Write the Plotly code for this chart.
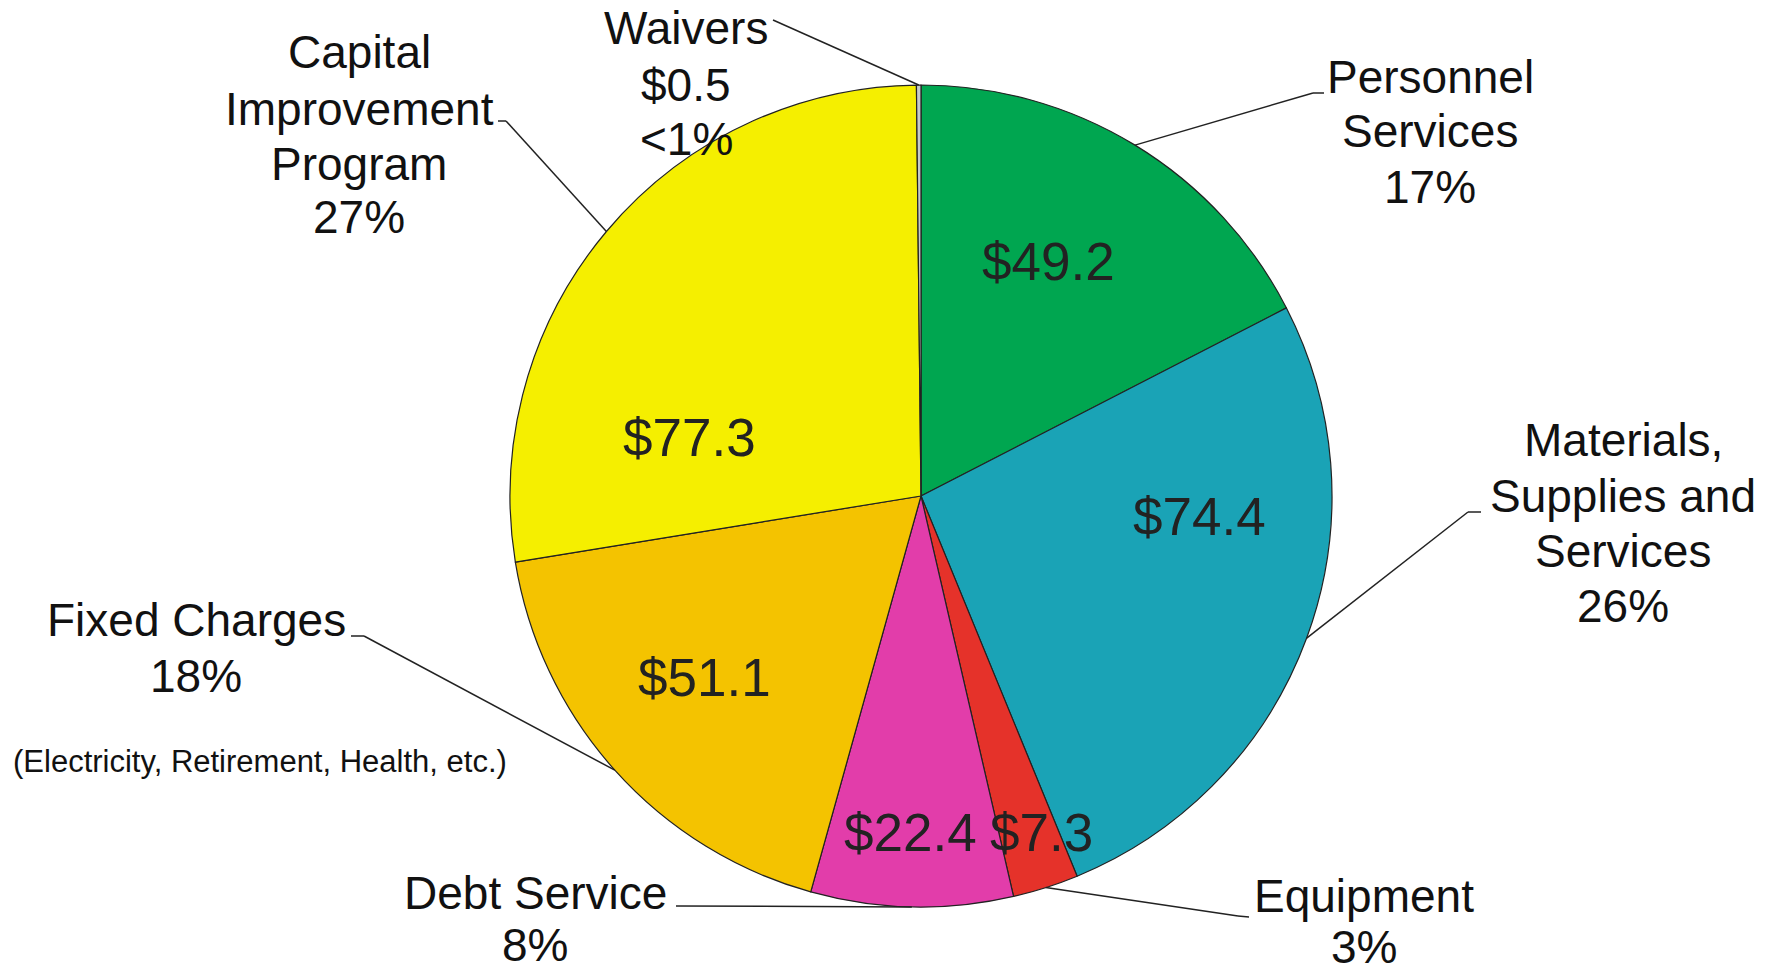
import math
import plotly.graph_objects as go

# data (millions of dollars)
categories = ["Personnel Services", "Materials, Supplies and Services", "Equipment",
              "Debt Service", "Fixed Charges", "Capital Improvement Program", "Waivers"]
amounts = [49.2, 74.4, 7.3, 22.4, 51.1, 77.3, 0.5]
pct_labels = ["17%", "26%", "3%", "8%", "18%", "27%", "<1%"]
colors = ["#00A650", "#1AA3B6", "#E5322A", "#E23DAA", "#F4C300", "#F5EF00", "#C4CACA"]

W, H = 1775, 976
CX, CY, R = 921, 496, 411  # pie centre / radius in px

fig = go.Figure(go.Pie(
    labels=categories,
    values=amounts,
    sort=False,
    direction="clockwise",
    rotation=0,
    marker=dict(colors=colors, line=dict(color="#222222", width=1.2)),
    textinfo="none",
    hoverinfo="label+value+percent",
    showlegend=False,
    domain=dict(x=[(CX - R) / W, (CX + R) / W], y=[1 - (CY + R) / H, 1 - (CY - R) / H]),
))

def px(x, y):
    return x / W, 1 - y / H

# outer labels: lines of text, x centre, y of each line, elbow points of the leader line
outer = [
    (["Personnel", "Services", pct_labels[0]], 1430, [77, 131, 187], [(1324, 93), (1313, 93)]),
    (["Materials,", "Supplies and", "Services", pct_labels[1]], 1623, [440, 496, 551, 606],
     [(1481, 512), (1468, 512)]),
    (["Equipment", pct_labels[2]], 1364, [896, 947], [(1249, 917), (1238, 916)]),
    (["Debt Service", pct_labels[3]], 535, [893, 945], [(676, 906)]),
    (["Fixed Charges", pct_labels[4]], 196, [620, 676], [(351, 636), (364, 636)]),
    (["Capital", "Improvement", "Program", pct_labels[5]], 359, [52, 109, 164, 217],
     [(498, 121), (506, 121)]),
    (["Waivers", "$%.1f" % amounts[6], pct_labels[6]], 686, [28, 85, 139], [(773, 20)]),
]

annotations = []
shapes = []
total = sum(amounts)
cum = 0
for i, v in enumerate(amounts):
    mid = (cum + v / 2) / total * 2 * math.pi
    cum += v
    ex, ey = CX + R * math.sin(mid), CY - R * math.cos(mid)
    lines, tx, tys, elbow = outer[i]
    for line, ty in zip(lines, tys):
        x, y = px(tx, ty)
        annotations.append(dict(x=x, y=y, xref="paper", yref="paper", text=line, showarrow=False,
                                font=dict(size=46, color="#111111"), xanchor="center", yanchor="middle"))
    pts = elbow + [(ex, ey)]
    for (x0, y0), (x1, y1) in zip(pts[:-1], pts[1:]):
        a0, b0 = px(x0, y0)
        a1, b1 = px(x1, y1)
        shapes.append(dict(type="line", xref="paper", yref="paper", x0=a0, y0=b0, x1=a1, y1=b1,
                           line=dict(color="#222222", width=1.5)))

# dollar values inside slices
value_pos = [(1048, 261), (1199, 516), (1041, 832), (911, 832), (704, 677), (689, 437)]
for v, (tx, ty) in zip(amounts[:6], value_pos):
    x, y = px(tx, ty)
    annotations.append(dict(x=x, y=y, xref="paper", yref="paper", text="$%.1f" % v, showarrow=False,
                            font=dict(size=53, color="#222222"), xanchor="center", yanchor="middle"))

x, y = px(260, 761)
annotations.append(dict(x=x, y=y, xref="paper", yref="paper",
                        text="(Electricity, Retirement, Health, etc.)", showarrow=False,
                        font=dict(size=31, color="#111111"), xanchor="center", yanchor="middle"))

fig.update_layout(
    width=W, height=H,
    margin=dict(l=0, r=0, t=0, b=0),
    paper_bgcolor="white",
    plot_bgcolor="white",
    font=dict(family="Liberation Sans, Arial, sans-serif"),
    annotations=annotations,
    shapes=shapes,
)

# drop the default 8px body margin so the figure sits flush in the window
fig.write_html("out.html", config={"displayModeBar": False},
               post_script="document.body.style.margin='0';")
